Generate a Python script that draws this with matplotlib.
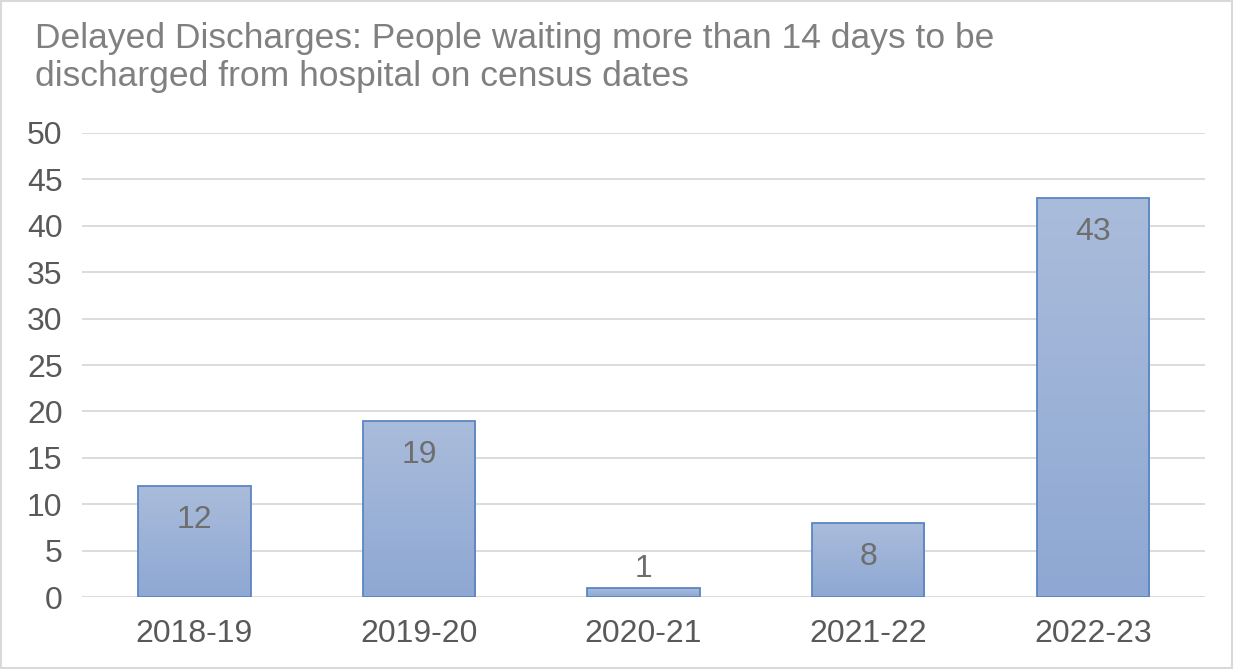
import matplotlib
matplotlib.use("Agg")
import matplotlib.pyplot as plt
import numpy as np
from matplotlib.colors import LinearSegmentedColormap
from matplotlib.patches import Rectangle

categories = ["2018-19", "2019-20", "2020-21", "2021-22", "2022-23"]
values = [12, 19, 1, 8, 43]
yticks = list(range(0, 51, 5))
title = "Delayed Discharges: People waiting more than 14 days to be\ndischarged from hospital on census dates"

plt.rcParams['font.family'] = ['Liberation Sans', 'DejaVu Sans']

fig = plt.figure(figsize=(12.34, 6.69), dpi=100)
ax = fig.add_axes([0.0665, 0.1076, 0.91, 0.6936])

x = np.arange(len(categories))
width = 0.5
cmap = LinearSegmentedColormap.from_list("g", ["#8EA8D3", "#AABCDB"])
grad = np.linspace(0, 1, 256).reshape(-1, 1)

bars = ax.bar(x, values, width=width, color="none", edgecolor="#5A86C3", linewidth=1.3, zorder=3)
for b in bars:
    x0, y0 = b.get_x(), b.get_y()
    w, h = b.get_width(), b.get_height()
    im = ax.imshow(grad, cmap=cmap, aspect="auto", origin="lower",
                   extent=[x0, x0 + w, y0, y0 + h], zorder=2)
    clip = Rectangle((x0, y0), w, h, transform=ax.transData)
    im.set_clip_path(clip)

for xi, v in zip(x, values):
    if v >= 5:
        ax.text(xi, v - 2.1, str(v), ha="center", va="top", fontsize=23, color="#6E6E6E", zorder=4)
    else:
        ax.text(xi, v + 0.4, str(v), ha="center", va="bottom", fontsize=23, color="#6E6E6E", zorder=4)

ax.set_xlim(-0.5, len(categories) - 0.5)
ax.set_ylim(0, 50)
ax.set_yticks(yticks)
ax.set_xticks(x)
ax.set_xticklabels(categories)
ax.tick_params(axis="both", length=0, labelsize=23, labelcolor="#595959")
ax.tick_params(axis="y", pad=14)
ax.tick_params(axis="x", pad=16)
ax.grid(axis="y", color="#D9D9D9", linewidth=1.3, zorder=0)
ax.set_axisbelow(True)
for s in ax.spines.values():
    s.set_visible(False)

fig.text(35 / 1234, 1 - 22 / 669, title, ha="left", va="top", fontsize=25.5,
         color="#808080", linespacing=1.2)

fig.patches.append(Rectangle((0.001, 0.001), 0.997, 0.997, transform=fig.transFigure,
                             fill=False, edgecolor="#D9D9D9", linewidth=1.5))

fig.savefig("out.png", dpi=100, facecolor="white")
